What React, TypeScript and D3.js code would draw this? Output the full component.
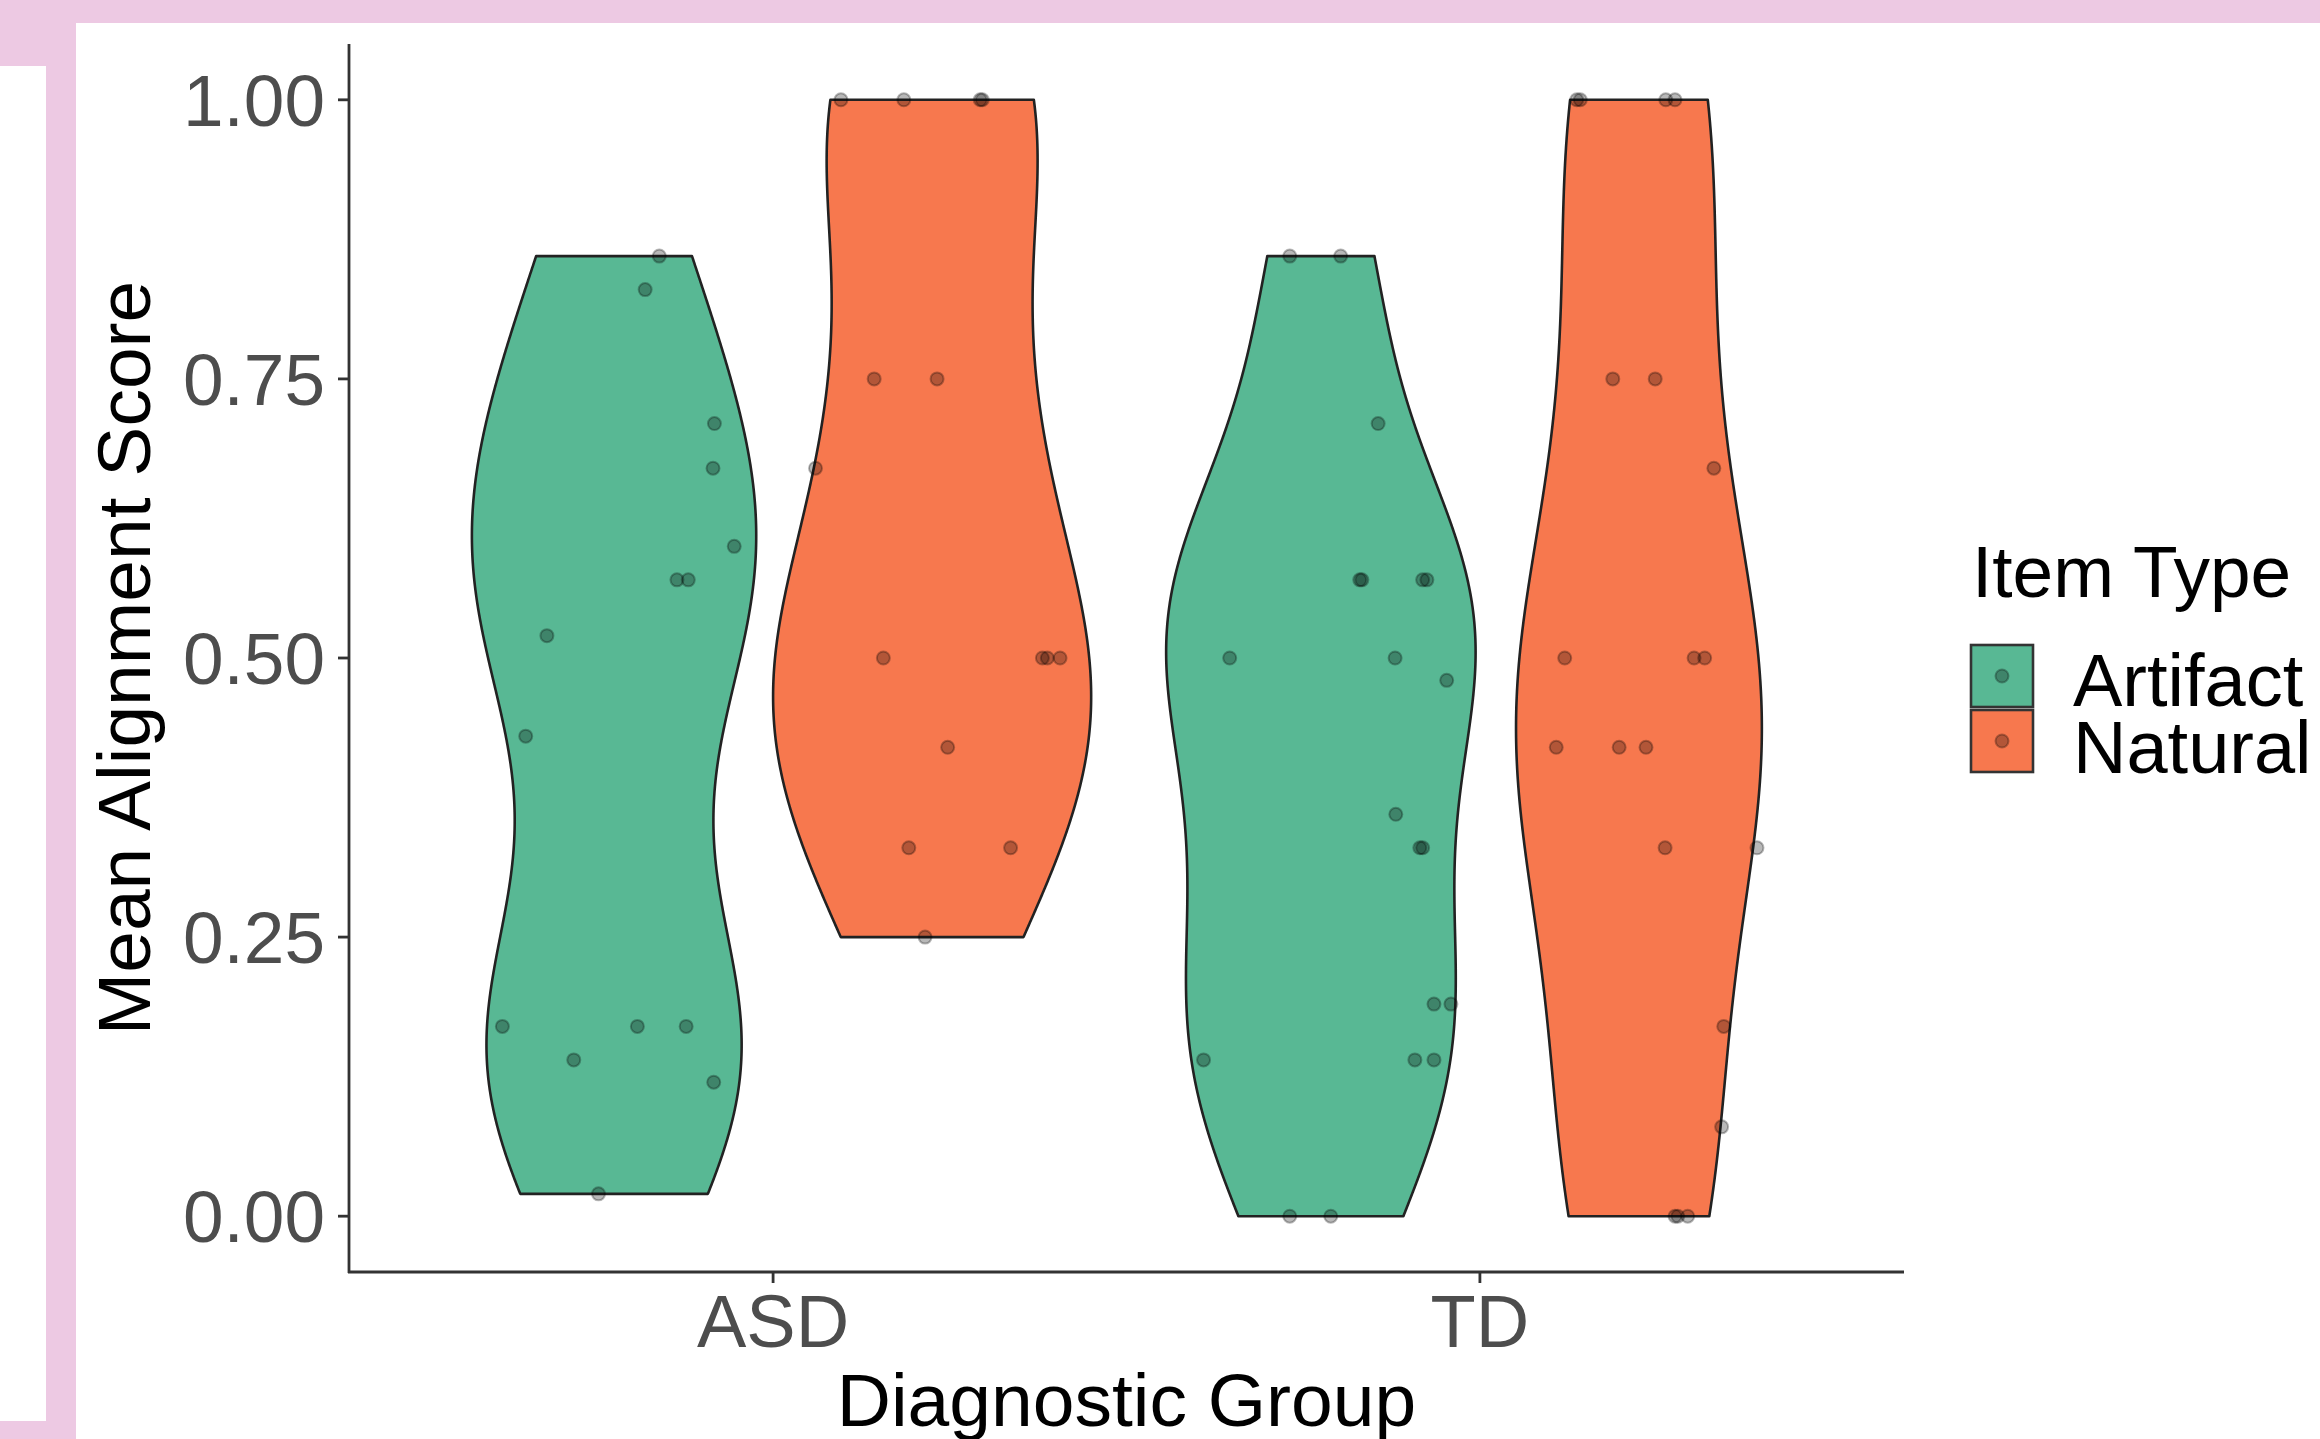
import React from "react";
import * as d3 from "d3";

// diagnostic groups on the x axis, item types as the fill
const groups = ["ASD", "TD"];
const itemTypes = ["Artifact", "Natural"];
const fills = ["#58B894", "#F7784E"];
const yTicks = [0, 0.25, 0.5, 0.75, 1];

// [mean alignment score, horizontal jitter in x-axis units]
const asdArtifact = [
  [0.86, 0.064], [0.83, 0.044], [0.71, 0.142], [0.67, 0.14], [0.6, 0.17],
  [0.57, 0.089], [0.57, 0.105], [0.52, -0.095], [0.43, -0.125], [0.17, -0.158],
  [0.17, 0.033], [0.17, 0.102], [0.14, -0.057], [0.12, 0.141], [0.02, -0.022],
];
const asdNatural = [
  [1, -0.129], [1, -0.04], [1, 0.068], [1, 0.071], [0.75, -0.082],
  [0.75, 0.007], [0.67, -0.165], [0.5, -0.069], [0.5, 0.156], [0.5, 0.163],
  [0.5, 0.181], [0.42, 0.022], [0.33, -0.033], [0.33, 0.111], [0.25, -0.01],
];
const tdArtifact = [
  [0.86, -0.044], [0.86, 0.028], [0.71, 0.081], [0.57, 0.055], [0.57, 0.058],
  [0.57, 0.144], [0.57, 0.15], [0.5, -0.129], [0.5, 0.105], [0.48, 0.178],
  [0.36, 0.106], [0.33, 0.14], [0.33, 0.144], [0.19, 0.16], [0.19, 0.184],
  [0.14, -0.166], [0.14, 0.133], [0.14, 0.16], [0, -0.044], [0, 0.014],
];
const tdNatural = [
  [1, -0.088], [1, -0.083], [1, 0.038], [1, 0.051], [0.75, -0.037],
  [0.75, 0.023], [0.67, 0.106], [0.5, -0.105], [0.5, 0.078], [0.5, 0.093],
  [0.42, -0.117], [0.42, -0.028], [0.42, 0.01], [0.33, 0.037], [0.33, 0.167],
  [0.17, 0.12], [0.08, 0.117], [0, 0.051], [0, 0.055], [0, 0.069],
];

const series = [
  { group: 0, type: 0, pts: asdArtifact },
  { group: 0, type: 1, pts: asdNatural },
  { group: 1, type: 0, pts: tdArtifact },
  { group: 1, type: 1, pts: tdNatural },
];

const W = 2320, H = 1439;
const pink = "#EDC9E3";
const font = "'Liberation Sans', Arial, sans-serif";

// R's density(): gaussian kernel, bw.nrd0, trimmed to the data range
function violinDensity(vals: number[]) {
  const s = vals.slice().sort(d3.ascending);
  const n = s.length;
  const sd = d3.deviation(s) as number;
  const iqr = (d3.quantile(s, 0.75) as number) - (d3.quantile(s, 0.25) as number);
  const h = 0.9 * Math.min(sd, iqr / 1.34) * Math.pow(n, -0.2);
  const lo = s[0], hi = s[n - 1];
  return d3.range(512).map(i => {
    const y = lo + ((hi - lo) * i) / 511;
    const d = d3.sum(s, v => Math.exp(-0.5 * ((y - v) / h) ** 2)) / (n * h * Math.sqrt(2 * Math.PI));
    return { y, d };
  });
}

export default function App() {
  const left = 349, right = 1904, top = 44, bottom = 1272;
  const x = d3.scaleLinear().domain([0.4, 2.6]).range([left, right]);
  const y = d3.scaleLinear().domain([-0.05, 1.05]).range([bottom, top]);
  const unit = x(1) - x(0);
  const dodge = 0.225;

  const dens = series.map(s => violinDensity(s.pts.map(p => p[0])));
  const maxD = d3.max(dens, ds => d3.max(ds, p => p.d)) as number;

  const violins = series.map((s, i) => {
    const cx = x(s.group + 1) + (s.type === 0 ? -dodge : dodge) * unit;
    const area = d3.area<{ y: number; d: number }>()
      .y(p => y(p.y))
      .x0(p => cx - (p.d / maxD) * dodge * unit)
      .x1(p => cx + (p.d / maxD) * dodge * unit);
    return { ...s, cx, path: area(dens[i]) as string };
  });

  const dot = { r: 6.5, fill: "#000", fillOpacity: 0.28, stroke: "#000", strokeOpacity: 0.28, strokeWidth: 2 };

  return (
    <svg width={W} height={H} style={{ position: "absolute", left: 0, top: 0, display: "block" }}
      fontFamily={font}>
      <rect x={0} y={0} width={W} height={H} fill={pink} />
      <rect x={76} y={23} width={W - 76} height={H - 23} fill="#fff" />
      <rect x={0} y={66} width={46} height={1355} fill="#fff" />

      {violins.map((v, i) => (
        <path key={"v" + i} d={v.path} fill={fills[v.type]} stroke="#222" strokeWidth={2.6}
          strokeLinejoin="round" />
      ))}
      {violins.map((v, i) => v.pts.map((p, j) => (
        <circle key={`p${i}-${j}`} cx={v.cx + p[1] * unit} cy={y(p[0])} {...dot} />
      )))}

      {/* axes */}
      <line x1={left} x2={left} y1={top} y2={bottom + 1} stroke="#333" strokeWidth={2.8} />
      <line x1={left - 1} x2={right} y1={bottom} y2={bottom} stroke="#333" strokeWidth={2.8} />
      {yTicks.map(t => (
        <g key={"yt" + t}>
          <line x1={left - 11} x2={left} y1={y(t)} y2={y(t)} stroke="#333" strokeWidth={2.8} />
          <text x={left - 24} y={y(t)} dy="0.36em" textAnchor="end" fontSize={73} fill="#4D4D4D">
            {d3.format(".2f")(t)}
          </text>
        </g>
      ))}
      {groups.map((g, i) => (
        <g key={"xt" + g}>
          <line x1={x(i + 1)} x2={x(i + 1)} y1={bottom} y2={bottom + 11} stroke="#333" strokeWidth={2.8} />
          <text x={x(i + 1)} y={1347} textAnchor="middle" fontSize={74} fill="#4D4D4D">{g}</text>
        </g>
      ))}
      <text transform={`translate(150,${(top + bottom) / 2}) rotate(-90)`} textAnchor="middle"
        fontSize={75} fill="#000">Mean Alignment Score</text>
      <text x={(left + right) / 2} y={1426} textAnchor="middle" fontSize={75} fill="#000">
        Diagnostic Group
      </text>

      {/* legend */}
      <text x={1972} y={597} fontSize={73} fill="#000">Item Type</text>
      {itemTypes.map((t, i) => (
        <g key={"lg" + t}>
          <rect x={1971} y={645 + i * 65} width={62} height={62} fill={fills[i]} stroke="#333" strokeWidth={2.6} />
          <circle cx={2002} cy={676 + i * 65} {...dot} />
          <text x={2073} y={706 + i * 67} fontSize={74} fill="#000">{t}</text>
        </g>
      ))}
    </svg>
  );
}
